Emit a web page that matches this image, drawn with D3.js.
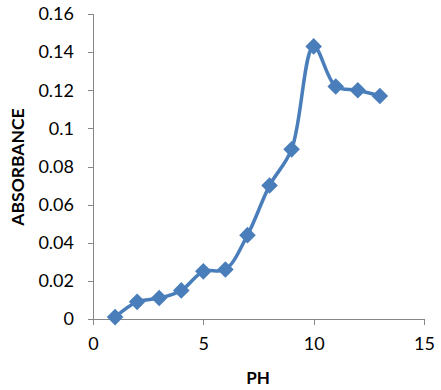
<!DOCTYPE html>
<html><head><meta charset="utf-8">
<script src="https://cdn.jsdelivr.net/npm/d3@7"></script>
<style>body{margin:0;background:#fff}svg{display:block}</style>
</head><body>
<svg id="c" width="441" height="390"></svg>
<script>
const ph = [1,2,3,4,5,6,7,8,9,10,11,12,13];
const absorbance = [0.001,0.009,0.011,0.015,0.025,0.026,0.044,0.070,0.089,0.143,0.122,0.120,0.117];
const xTicks = [0,5,10,15];
const yTicks = [0,0.02,0.04,0.06,0.08,0.1,0.12,0.14,0.16];
const xTitle = "PH", yTitle = "ABSORBANCE";

const svg = d3.select("#c");
const x = d3.scaleLinear().domain([0,15]).range([93,424]);
const y = d3.scaleLinear().domain([0,0.16]).range([319,14]);
const font = "Lato, 'Open Sans', sans-serif";
const axisCol = "#868686";

const yAxis = svg.append("g").attr("transform","translate(93,0)")
  .call(d3.axisLeft(y).tickValues(yTicks).tickSize(5).tickPadding(14).tickFormat(d=>String(+d.toFixed(2))));
const xAxis = svg.append("g").attr("transform","translate(0,319)")
  .call(d3.axisBottom(x).tickValues(xTicks).tickSize(6).tickPadding(12).tickFormat(d3.format("d")));
[xAxis,yAxis].forEach(g=>{
  g.selectAll("path,line").attr("stroke",axisCol).attr("stroke-width",1).attr("shape-rendering","crispEdges");
  g.selectAll("text").attr("fill","#000").style("font-family",font).style("font-size","18px");
});
yAxis.select(".domain").attr("d","M0,14V319");
xAxis.select(".domain").attr("d","M93,0H424");

const col = "#4A7EBB";
const data = ph.map((p,i)=>({p, a:absorbance[i]}));
svg.append("path").datum(data)
  .attr("d", d3.line().x(d=>x(d.p)).y(d=>y(d.a)).curve(d3.curveCatmullRom.alpha(0.5)))
  .attr("fill","none").attr("stroke",col).attr("stroke-width",3.5).attr("stroke-linejoin","round");
svg.append("g").selectAll("path").data(data).join("path")
  .attr("transform",d=>`translate(${x(d.p)},${y(d.a)})`)
  .attr("d","M0,-8.3L8.3,0L0,8.3L-8.3,0Z").attr("fill",col);

svg.append("text").attr("x",258).attr("y",384).attr("text-anchor","middle")
  .style("font-family",font).style("font-size","17px").style("font-weight","bold").text(xTitle);
svg.append("text").attr("transform","translate(24,167) rotate(-90)").attr("text-anchor","middle")
  .style("font-family",font).style("font-size","17.5px").style("font-weight","bold").text(yTitle);
</script>
</body></html>
